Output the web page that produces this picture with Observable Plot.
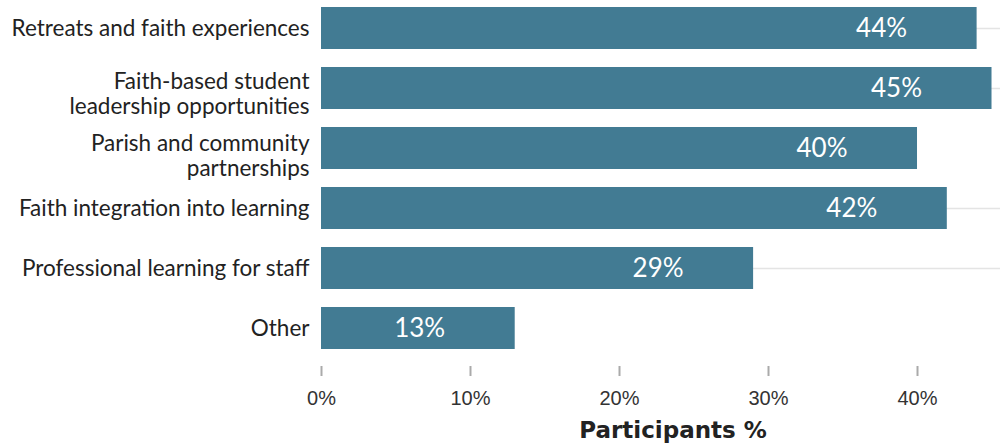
<!DOCTYPE html>
<html>
<head>
<meta charset="utf-8">
<script src="https://cdn.jsdelivr.net/npm/d3@7"></script>
<script src="https://cdn.jsdelivr.net/npm/@observablehq/plot@0.6"></script>
<style>
  html, body { margin: 0; padding: 0; background: #fff; }
  #chart svg { display: block; }
</style>
</head>
<body>
<div id="chart"></div>
<script>
// Data
const categories = [
  "Retreats and faith experiences",
  "Faith-based student\nleadership opportunities",
  "Parish and community\npartnerships",
  "Faith integration into learning",
  "Professional learning for staff",
  "Other"
];
const values = [44, 45, 40, 42, 29, 13];
const xTicks = [0, 10, 20, 30, 40];
const axisTitle = "Participants %";
const gridCategories = [categories[0], categories[1], categories[3], categories[4]];

const data = categories.map((c, i) => ({category: c, value: values[i]}));
const singleLine = categories.filter(c => !c.includes("\n"));

const labelFont = {tickSize: 0, tickPadding: 12, fontSize: 22.5, fontFamily: "Lato", color: "#222", label: null};

const chart = Plot.plot({
  width: 1006,
  height: 443,
  marginLeft: 321,
  marginRight: 6,
  marginTop: 0,
  marginBottom: 77,
  insetBottom: 10,
  style: {background: "#fff", overflow: "visible"},
  x: {domain: [0, 45.57]},
  y: {domain: categories, paddingInner: 0.295, paddingOuter: 0.1},
  marks: [
    Plot.ruleY(gridCategories, {y: d => d, stroke: "#e4e4e4", strokeWidth: 1.5}),
    Plot.barX(data, {x: "value", y: "category", fill: "#427b93"}),
    Plot.text(data, {
      x: "value", y: "category", text: d => d.value + "%",
      textAnchor: "end", dx: -70, fill: "#fff",
      fontSize: 26, fontFamily: "Lato"
    }),
    Plot.axisX({
      ticks: xTicks, tickFormat: d => d + "%", tickSize: 10, tickPadding: 14,
      stroke: "#aaa", strokeWidth: 2, fontSize: 20, fontFamily: "Liberation Sans",
      color: "#333", label: null
    }),
    Plot.axisY({...labelFont, ticks: singleLine}),
    Plot.axisY({...labelFont, ticks: [categories[1]], lineHeight: 1.1, dy: 5}),
    Plot.axisY({...labelFont, ticks: [categories[2]], lineHeight: 1.1, dy: 7}),
    Plot.text([axisTitle], {
      frameAnchor: "bottom", text: d => d, dy: 71, dx: 12,
      fontSize: 23, fontWeight: "bold", fontFamily: "DejaVu Sans",
      fill: "#222"
    })
  ]
});
document.getElementById("chart").appendChild(chart);
</script>
</body>
</html>
